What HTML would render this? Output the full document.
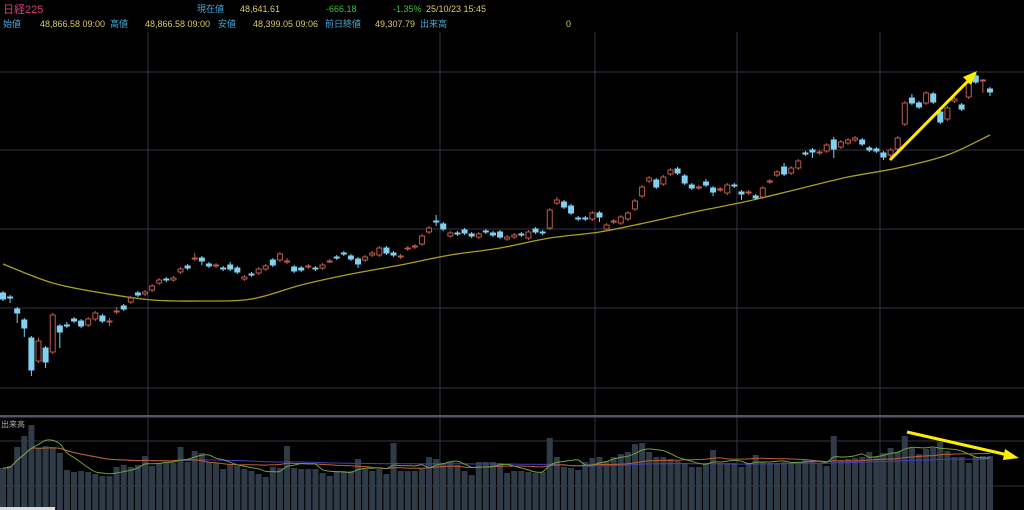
<!DOCTYPE html>
<html><head><meta charset="utf-8"><style>
html,body{margin:0;padding:0;background:#000;width:1024px;height:510px;overflow:hidden}
svg{display:block}
text{font-family:"Liberation Sans","Noto Sans CJK JP",sans-serif;font-size:9px}
</style></head><body>
<svg id="chart" width="1024" height="510" viewBox="0 0 1024 510" xmlns="http://www.w3.org/2000/svg">
<rect x="0" y="0" width="1024" height="510" fill="#000"/>
<g>
<text x="3" y="13" fill="#d0407a" style="font-size:11px">日経225</text>
<text x="197" y="12" fill="#40a8d8">現在値</text>
<text x="240" y="12" fill="#d8cc60">48,641.61</text>
<text x="326" y="12" fill="#3cc03c">-666.18</text>
<text x="393" y="12" fill="#3cc03c">-1.35%</text>
<text x="426" y="12" fill="#d8cc60">25/10/23  15:45</text>
<text x="3" y="27" fill="#40a8d8">始値</text>
<text x="40" y="27" fill="#d8cc60">48,866.58  09:00</text>
<text x="110" y="27" fill="#40a8d8">高値</text>
<text x="145" y="27" fill="#d8cc60">48,866.58  09:00</text>
<text x="218" y="27" fill="#40a8d8">安値</text>
<text x="253" y="27" fill="#d8cc60">48,399.05  09:06</text>
<text x="325" y="27" fill="#40a8d8">前日終値</text>
<text x="375" y="27" fill="#d8cc60">49,307.79</text>
<text x="420" y="27" fill="#40a8d8">出来高</text>
<text x="566" y="27" fill="#d8cc60">0</text>
</g>
<g id="grid"></g>
<g id="vol"></g>
<g id="price"></g>
<text x="1" y="427" fill="#aaa" style="font-size:8px">出来高</text>
<rect x="0" y="507" width="55" height="3" fill="#ddd"/>
<g>
<line x1="890" y1="160" x2="970" y2="79" stroke="#ffee00" stroke-width="3"/>
<polygon points="977,71 963,77 971,85" fill="#ffee00"/>
<line x1="907" y1="432" x2="1008" y2="455" stroke="#ffee00" stroke-width="3"/>
<polygon points="1019,458 1005,449 1003,460" fill="#ffee00"/>
</g>
</svg>
<script>
const opens=[47070,47030,46910,46800,46620,46390,46520,46480,46740,46750,46810,46790,46750,46810,46840,46780,46880,46940,46980,47070,47060,47100,47170,47210,47200,47280,47340,47410,47420,47360,47340,47320,47350,47320,47210,47260,47270,47310,47400,47400,47380,47330,47320,47330,47320,47320,47380,47430,47470,47440,47410,47400,47450,47450,47520,47470,47430,47510,47530,47560,47680,47790,47760,47640,47670,47700,47660,47630,47690,47670,47680,47610,47630,47660,47620,47710,47680,47720,47970,47980,47940,47820,47820,47810,47870,47710,47780,47770,47810,47910,48040,48190,48200,48160,48260,48310,48240,48150,48120,48180,48120,48100,48070,48150,48080,48070,48040,48030,48180,48250,48330,48270,48320,48470,48500,48470,48490,48600,48530,48570,48600,48600,48520,48510,48470,48450,48510,48760,49020,48970,48970,49060,48880,48810,48990,48950,49030,49240,49190,49110];
const closes=[47010,47020,46870,46720,46300,46590,46380,46850,46680,46740,46790,46740,46810,46870,46790,46790,46890,46910,47020,47050,47080,47140,47200,47200,47220,47310,47320,47420,47390,47340,47350,47310,47310,47280,47230,47250,47310,47340,47350,47460,47390,47290,47300,47340,47310,47350,47390,47420,47460,47410,47360,47430,47470,47520,47470,47450,47440,47520,47540,47640,47720,47780,47710,47670,47660,47670,47640,47660,47680,47650,47630,47630,47650,47650,47680,47680,47670,47900,48000,47930,47870,47810,47810,47870,47830,47750,47790,47830,47870,47990,48130,48220,48130,48230,48300,48270,48170,48120,48130,48150,48080,48110,48150,48140,48060,48080,48020,48120,48190,48280,48260,48320,48390,48460,48480,48480,48550,48510,48580,48600,48620,48560,48500,48490,48430,48500,48620,48970,48970,48930,49070,48980,48780,48920,49010,48910,49170,49180,49200,49080];
const highs=[47090,47050,46930,46820,46640,46620,46540,46870,46760,46780,46830,46810,46830,46890,46860,46820,46930,46960,47040,47090,47100,47160,47220,47230,47240,47330,47360,47470,47440,47380,47370,47340,47380,47340,47250,47280,47330,47360,47420,47480,47420,47350,47340,47360,47340,47370,47410,47450,47490,47460,47430,47450,47490,47540,47540,47490,47460,47540,47560,47660,47740,47850,47780,47690,47690,47720,47680,47680,47710,47690,47700,47650,47670,47680,47700,47730,47700,47920,48030,48000,47960,47840,47840,47890,47890,47770,47810,47850,47890,48010,48150,48240,48220,48250,48320,48330,48260,48170,48150,48210,48140,48130,48170,48170,48100,48100,48060,48140,48210,48300,48370,48340,48410,48490,48520,48500,48570,48630,48600,48620,48640,48620,48540,48530,48490,48520,48640,48990,49060,48990,49090,49080,48900,48940,49030,48970,49190,49270,49210,49130];
const lows=[46990,46970,46770,46630,46240,46370,46320,46460,46520,46720,46770,46720,46730,46790,46770,46740,46860,46890,46960,47030,47040,47080,47150,47180,47180,47260,47300,47390,47350,47320,47320,47290,47290,47260,47190,47230,47250,47290,47330,47380,47360,47270,47280,47310,47290,47300,47370,47400,47440,47390,47320,47380,47430,47430,47450,47430,47410,47490,47510,47540,47660,47740,47690,47620,47640,47650,47620,47610,47660,47630,47610,47590,47610,47630,47600,47660,47650,47700,47950,47910,47850,47790,47790,47790,47780,47690,47760,47750,47790,47890,48020,48170,48110,48140,48240,48250,48150,48100,48100,48130,48040,48080,48050,48120,48000,48050,48000,48010,48160,48230,48240,48250,48300,48440,48420,48450,48470,48420,48510,48550,48580,48540,48480,48470,48400,48430,48490,48740,48950,48910,48950,48960,48760,48790,48970,48890,49010,49160,49070,49040];
const maIdx=[0,7,14,21,28,35,42,49,56,63,70,77,84,91,98,105,112,119,126,133,139];
const maVals=[47360,47170,47070,47000,46990,47010,47150,47260,47350,47450,47520,47620,47680,47780,47890,47990,48110,48230,48320,48450,48650];
const volumes=[42,44,63,74,85,62,64,63,57,40,38,39,38,36,34,34,43,45,43,45,54,44,47,48,47,63,48,59,57,48,47,41,46,44,41,39,36,33,43,42,64,42,41,41,41,37,34,39,39,39,51,41,39,41,36,67,39,39,39,42,53,51,47,48,45,39,35,48,48,48,47,37,39,39,38,37,38,72,53,43,42,40,48,52,53,49,53,56,58,66,67,58,53,53,51,49,47,43,43,47,60,47,47,47,43,47,55,48,47,47,48,48,48,50,50,47,44,74,50,51,52,53,58,53,57,62,58,74,62,56,61,62,68,59,53,53,47,53,54,54];
const hGrid=[72,150,229,308,388];
const vGrid=[148,440,595,737,880];

const NS='http://www.w3.org/2000/svg';
const N=opens.length;
const xOf=i=>3+i*(987/(N-1));
const yP=p=>(50000-p)/10;
const yV=v=>510-v;
function mk(tag,attrs,parent){const e=document.createElementNS(NS,tag);for(const k in attrs)e.setAttribute(k,attrs[k]);parent.appendChild(e);return e;}
function smooth(pts){let d='M'+pts[0][0].toFixed(1)+','+pts[0][1].toFixed(1);
for(let i=0;i<pts.length-1;i++){const p0=pts[Math.max(0,i-1)],p1=pts[i],p2=pts[i+1],p3=pts[Math.min(pts.length-1,i+2)];
const c1x=p1[0]+(p2[0]-p0[0])/6,c1y=p1[1]+(p2[1]-p0[1])/6,c2x=p2[0]-(p3[0]-p1[0])/6,c2y=p2[1]-(p3[1]-p1[1])/6;
d+='C'+c1x.toFixed(1)+','+c1y.toFixed(1)+' '+c2x.toFixed(1)+','+c2y.toFixed(1)+' '+p2[0].toFixed(1)+','+p2[1].toFixed(1);}
return d;}
const grid=document.getElementById('grid'),price=document.getElementById('price'),vol=document.getElementById('vol');
hGrid.forEach(y=>{const l=mk('line',{x1:0,x2:1024,y1:y,y2:y,stroke:'#35354a','stroke-width':1},grid);

});
[441,486].forEach(y=>{const l=mk('line',{x1:0,x2:1024,y1:y,y2:y,stroke:'#35354a','stroke-width':1},grid);

});
vGrid.forEach(x=>{const l=mk('line',{x1:x,x2:x,y1:32,y2:510,stroke:'#35354a','stroke-width':1},grid);

});
const sep=mk('rect',{x:0,y:415,width:1024,height:2.5,fill:'#555566'},grid);


volumes.forEach((v,i)=>{const r=mk('rect',{x:xOf(i)-3,y:yV(v),width:6,height:v,fill:'#303b48'},vol);

});
function maLine(n,color,name){const pts=[];for(let i=0;i<N;i++){const s=Math.max(0,i-n+1);let sum=0;for(let j=s;j<=i;j++)sum+=volumes[j];pts.push([xOf(i),yV(sum/(i-s+1))]);}
const p=mk('path',{d:smooth(pts),fill:'none',stroke:color,'stroke-width':1},vol);

}
maLine(75,'#4040c0','volume-ma-long');
maLine(25,'#c06030','volume-ma-mid');
maLine(5,'#70a040','volume-ma-short');
const mpts=maIdx.map((k,j)=>[xOf(k),yP(maVals[j])]);
const mp=mk('path',{d:smooth(mpts),fill:'none',stroke:'#a8a020','stroke-width':1.3},price);


for(let i=0;i<N;i++){const up=closes[i]>=opens[i];const col=up?'#c05a50':'#80d0f0';const x=xOf(i);
const g=mk('g',{},price);


mk('line',{x1:x,x2:x,y1:yP(highs[i]),y2:yP(lows[i]),stroke:col,'stroke-width':1},g);
const t=yP(Math.max(opens[i],closes[i])),b=yP(Math.min(opens[i],closes[i]));
mk('rect',{x:x-2.5,y:t,width:5,height:Math.max(b-t,1),fill:up?'#000':col,stroke:col,'stroke-width':1},g);}
</script>
</body></html>
